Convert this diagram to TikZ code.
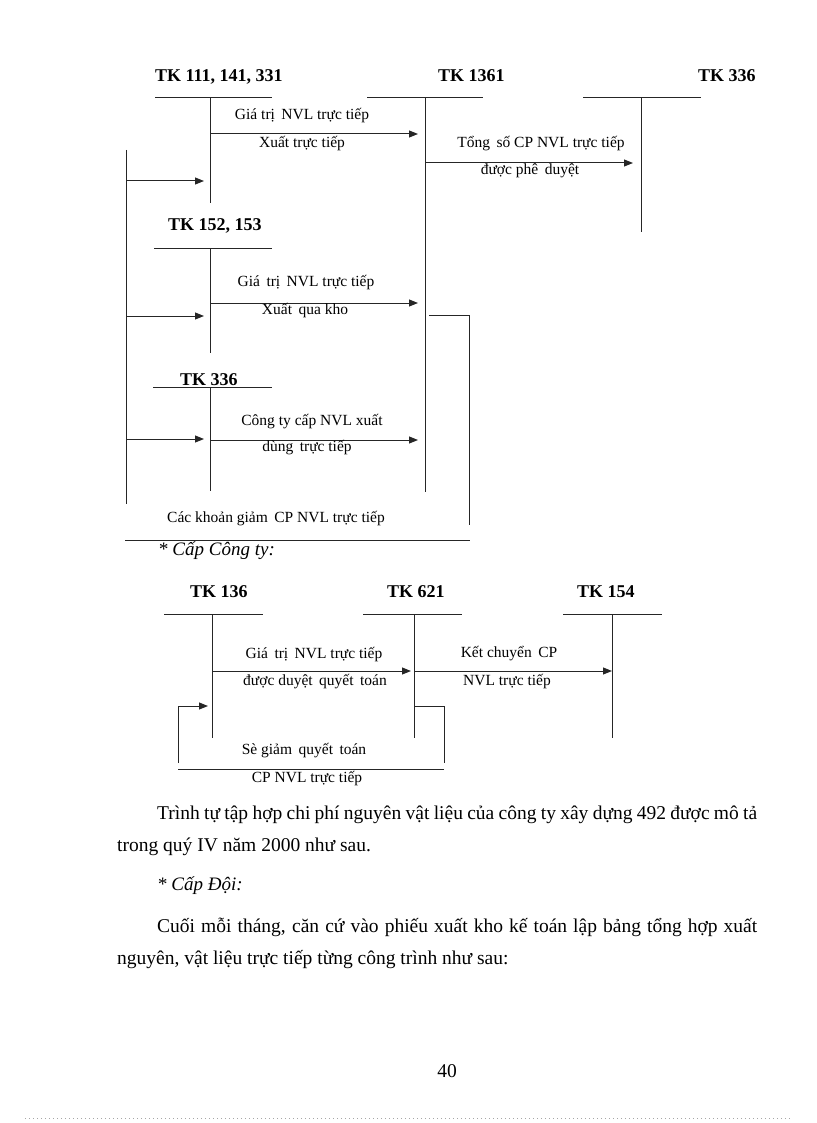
\documentclass[tikz,border=0pt]{standalone}
\usepackage{fontspec}
\setmainfont{Liberation Serif}
\usetikzlibrary{arrows.meta}
\tikzset{
  ln/.style={line width=1pt, draw=black!85},
  arr/.style={ln, -{Triangle[length=9pt,width=7pt]}},
  hd/.style={font=\fontsize{18}{20}\selectfont\bfseries, inner sep=0pt, anchor=base west},
  lb/.style={font=\fontsize{15.5}{17}\selectfont, inner sep=0pt, anchor=base},
  bd/.style={font=\fontsize{19.5}{22}\selectfont, inner sep=0pt, anchor=base west},
}
\begin{document}
\begin{tikzpicture}[x=1pt,y=-1pt]
\useasboundingbox (0,0) rectangle (816,1123);
% ---------- top diagram: T accounts ----------
\node[hd] (h1) at (155,82) {TK 111, 141, 331};
\node[hd] (h2) at (438,82) {TK 1361};
\node[hd] (h3) at (698,82) {TK 336};
\node[hd] (h4) at (168,231) {TK 152, 153};
\node[hd] (h5) at (180,385) {TK 336};

\coordinate (a1L) at (155,98);  \coordinate (a1R) at (272,98);
\coordinate (a1T) at (210,98);  \coordinate (a1B) at (210,203);
\coordinate (a2L) at (367,98);  \coordinate (a2R) at (483,98);
\coordinate (a2T) at (425,98);  \coordinate (a2B) at (425,492);
\coordinate (a3L) at (583,98);  \coordinate (a3R) at (701,98);
\coordinate (a3T) at (641,98);  \coordinate (a3B) at (641,232);
\coordinate (a4L) at (154,248); \coordinate (a4R) at (272,248);
\coordinate (a4T) at (210,248); \coordinate (a4B) at (210,353);
\coordinate (a5L) at (153,387); \coordinate (a5R) at (272,387);
\coordinate (a5T) at (210,387); \coordinate (a5B) at (210,491);
\foreach \k in {1,...,5}{
  \draw[ln] (a\k L) -- (a\k R);
  \draw[ln] (a\k T) -- (a\k B);
}
% arrows into TK 1361 / TK 336
\coordinate (r1s) at (210,134); \coordinate (r1e) at (418,134);
\coordinate (r2s) at (425,163); \coordinate (r2e) at (633,163);
\coordinate (r3s) at (210,303); \coordinate (r3e) at (418,303);
\coordinate (r4s) at (210,440); \coordinate (r4e) at (418,440);
\draw[arr] (r1s) -- (r1e);
\draw[arr] (r2s) -- (r2e);
\draw[arr] (r3s) -- (r3e);
\draw[arr] (r4s) -- (r4e);
% left feedback line
\coordinate (lt) at (126,150); \coordinate (lb) at (126,504);
\draw[ln] (lt) -- (lb);
\coordinate (l1) at (126,181); \coordinate (l1e) at (204,181);
\coordinate (l2) at (126,316); \coordinate (l2e) at (204,316);
\coordinate (l3) at (126,439); \coordinate (l3e) at (204,439);
\draw[arr] (l1) -- (l1e);
\draw[arr] (l2) -- (l2e);
\draw[arr] (l3) -- (l3e);
% right bracket and bottom line
\coordinate (b1) at (429,315); \coordinate (b2) at (469,315); \coordinate (b3) at (469,525);
\draw[ln] (b1) -- (b2) -- (b3);
\coordinate (bl1) at (125,540); \coordinate (bl2) at (470,540);
\draw[ln] (bl1) -- (bl2);
% labels
\node[lb] (t1) at (302,120) {Giá trị\, NVL trực tiếp};
\node[lb] (t2) at (302,148) {Xuất trực tiếp};
\node[lb] (t3) at (541,148) {Tổng\, số CP NVL trực tiếp};
\node[lb] (t4) at (530,175) {được phê\, duyệt};
\node[lb] (t5) at (306,286) {Giá\, trị\, NVL trực tiếp};
\node[lb] (t6) at (305,314) {Xuất\, qua kho};
\node[lb] (t7) at (312,425) {Công ty cấp NVL xuất};
\node[lb] (t8) at (307,451) {dùng\, trực tiếp};
\node[lb] (t9) at (276,522) {Các khoản giảm\, CP NVL trực tiếp};
\node[bd, font=\fontsize{19}{22}\selectfont\itshape] (cty) at (158,555) {* Cấp Công ty:};
% ---------- bottom diagram ----------
\node[hd] (g1) at (190,597) {TK 136};
\node[hd] (g2) at (387,597) {TK 621};
\node[hd] (g3) at (577,597) {TK 154};
\coordinate (c1L) at (164,614); \coordinate (c1R) at (263,614);
\coordinate (c1T) at (212,614); \coordinate (c1B) at (212,738);
\coordinate (c2L) at (363,614); \coordinate (c2R) at (462,614);
\coordinate (c2T) at (414,614); \coordinate (c2B) at (414,738);
\coordinate (c3L) at (563,614); \coordinate (c3R) at (662,614);
\coordinate (c3T) at (612,614); \coordinate (c3B) at (612,738);
\foreach \k in {1,2,3}{
  \draw[ln] (c\k L) -- (c\k R);
  \draw[ln] (c\k T) -- (c\k B);
}
\coordinate (s1s) at (213,671); \coordinate (s1e) at (411,671);
\coordinate (s2s) at (414,671); \coordinate (s2e) at (612,671);
\draw[arr] (s1s) -- (s1e);
\draw[arr] (s2s) -- (s2e);
\coordinate (p1) at (414,706); \coordinate (p2) at (444,706); \coordinate (p3) at (444,763);
\draw[ln] (p1) -- (p2) -- (p3);
\coordinate (q1) at (178,763); \coordinate (q2) at (178,706); \coordinate (q3) at (208,706);
\draw[arr] (q1) -- (q2) -- (q3);
\coordinate (u1) at (178,769); \coordinate (u2) at (444,769);
\draw[ln] (u1) -- (u2);
\node[lb] (v1) at (314,658) {Giá\, trị\, NVL trực tiếp};
\node[lb] (v2) at (315,685) {được duyệt\, quyết\, toán};
\node[lb] (v3) at (509,657) {Kết chuyển\, CP};
\node[lb] (v4) at (507,685) {NVL trực tiếp};
\node[lb] (v5) at (304,754) {Sè giảm\, quyết\, toán};
\node[lb] (v6) at (307,782) {CP NVL trực tiếp};
% ---------- body text ----------
\node[bd] (p1a) at (157,819) {\makebox[600pt][s]{Trình tự tập hợp chi phí nguyên vật liệu của công ty xây dựng 492 được mô tả}};
\node[bd] (p1b) at (117,851) {trong quý IV năm 2000 như sau.};
\node[bd, font=\fontsize{19}{22}\selectfont\itshape] (doi) at (157,890) {* Cấp Đội:};
\node[bd] (p2a) at (157,932) {\makebox[600pt][s]{Cuối mỗi tháng, căn cứ vào phiếu xuất kho kế toán lập bảng tổng hợp xuất}};
\node[bd] (p2b) at (117,964) {nguyên, vật liệu trực tiếp từng công trình như sau:};
\node[bd, anchor=base] (pg) at (447,1077) {40};
\coordinate (d1) at (25,1118); \coordinate (d2) at (790,1118);
\draw[black!35, line width=0.8pt, dash pattern=on 1pt off 3pt] (d1) -- (d2);
\end{tikzpicture}
\end{document}
